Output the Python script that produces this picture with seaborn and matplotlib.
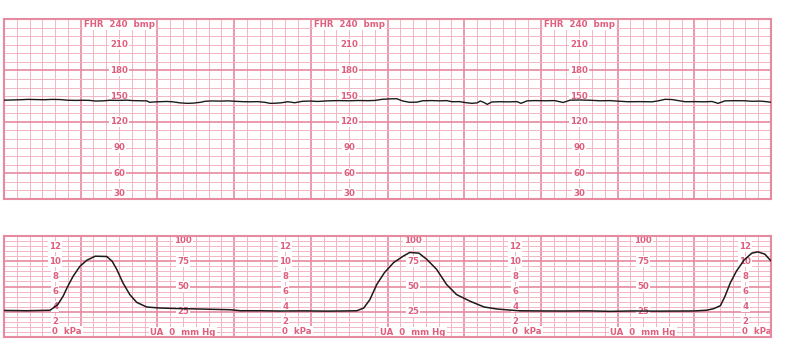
import numpy as np
import pandas as pd
import matplotlib
matplotlib.use("Agg")
import matplotlib.pyplot as plt
import seaborn as sns

# ---------------- data ----------------
fhr_time = [0.00, 0.10, 0.21, 0.31, 0.42, 0.52, 0.63, 0.73, 0.82, 0.93,
            1.03, 1.12, 1.19, 1.29, 1.38, 1.49, 1.60, 1.68, 1.77, 1.86,
            1.90, 1.97, 2.03, 2.12, 2.20, 2.29, 2.39, 2.46, 2.56, 2.62,
            2.71, 2.82, 2.92, 3.01, 3.10, 3.21, 3.31, 3.40, 3.47, 3.55,
            3.62, 3.70, 3.79, 3.89, 3.99, 4.09, 4.22, 4.35, 4.49, 4.62,
            4.75, 4.84, 4.93, 5.03, 5.12, 5.20, 5.29, 5.38, 5.46, 5.58,
            5.68, 5.77, 5.84, 5.94, 6.03, 6.10, 6.17, 6.21, 6.26, 6.30,
            6.36, 6.47, 6.57, 6.69, 6.74, 6.82, 6.92, 7.05, 7.18, 7.29,
            7.38, 7.51, 7.64, 7.77, 7.90, 8.00, 8.13, 8.29, 8.45, 8.53,
            8.62, 8.71, 8.79, 8.88, 9.01, 9.14, 9.23, 9.31, 9.40, 9.53,
            9.66, 9.75, 9.86, 9.95, 10.00]
fhr_bpm = [145.3, 145.5, 145.8, 146.2, 146.0, 145.8, 146.2, 146.0, 145.3, 145.0,
           145.2, 145.0, 144.3, 144.5, 145.2, 145.0, 145.3, 144.8, 144.6, 144.5,
           142.8, 143.3, 143.5, 143.8, 143.4, 142.2, 141.6, 141.8, 142.8, 144.0,
           144.4, 144.2, 144.5, 144.0, 143.6, 143.4, 143.6, 142.8, 141.6, 141.8,
           142.3, 143.5, 142.3, 144.0, 144.3, 143.8, 144.5, 144.8, 144.6, 144.9,
           144.7, 145.0, 146.3, 146.8, 147.0, 144.3, 142.8, 143.0, 144.6, 144.8,
           144.5, 144.8, 143.5, 143.6, 142.3, 141.6, 142.2, 144.3, 142.5, 140.4,
           143.2, 143.5, 143.3, 143.6, 141.6, 144.5, 144.8, 144.6, 144.8, 142.6,
           145.3, 145.5, 145.2, 144.6, 144.8, 144.2, 143.5, 143.6, 143.4, 144.5,
           146.3, 146.0, 144.8, 143.5, 143.6, 143.4, 143.8, 141.6, 144.5, 144.7,
           144.6, 144.0, 144.2, 143.5, 142.8]

ua_time = [0.00, 0.30, 0.60, 0.64, 0.70, 0.77, 0.83, 0.90, 0.99, 1.08,
           1.19, 1.34, 1.41, 1.47, 1.55, 1.64, 1.73, 1.86, 2.03, 2.20,
           2.56, 2.95, 3.08, 3.34, 3.60, 3.90, 4.20, 4.45, 4.60, 4.69,
           4.77, 4.86, 4.96, 5.08, 5.21, 5.29, 5.41, 5.51, 5.64, 5.77,
           5.90, 6.08, 6.26, 6.43, 6.70, 7.00, 7.30, 7.60, 7.90, 8.20,
           8.50, 8.80, 9.00, 9.16, 9.25, 9.34, 9.40, 9.47, 9.55, 9.65,
           9.75, 9.83, 9.92, 10.00]
ua_mmhg = [26.3, 26.0, 26.5, 28.7, 32.0, 40.3, 50.0, 60.0, 70.0, 76.0,
           80.0, 79.7, 75.0, 67.0, 53.7, 42.0, 34.3, 29.7, 28.7, 28.3,
           27.7, 27.0, 26.0, 26.0, 25.7, 25.9, 25.6, 25.8, 26.0, 28.7,
           37.0, 52.0, 63.7, 73.7, 80.3, 83.7, 83.0, 77.0, 67.0, 52.0,
           42.0, 35.3, 29.7, 27.7, 26.0, 25.8, 25.7, 25.9, 25.4, 25.8,
           25.6, 25.7, 25.8, 26.5, 28.0, 31.0, 40.3, 53.7, 65.3, 76.3,
           83.0, 84.3, 82.0, 75.3]

fhr_labels = ["210", "180", "150", "120", "90", "60", "30"]
fhr_label_vals = [210, 180, 150, 120, 90, 60, 36]
fhr_title = "FHR  240  bmp"
fhr_label_cols = [1.5, 4.5, 7.5]

kpa_labels = ["12", "10", "8", "6", "4", "2"]
kpa_vals = [12, 10, 8, 6, 4, 2]
kpa_cols = [0.667, 3.667, 6.667, 9.667]
mmhg_labels = ["100", "75", "50", "25"]
mmhg_vals = [96, 75, 50, 25]
mmhg_cols = [2.333, 5.333, 8.333]

fhr_df = pd.DataFrame({"t": fhr_time, "bpm": fhr_bpm})
ua_df = pd.DataFrame({"t": ua_time, "mmhg": ua_mmhg})

# ---------------- style ----------------
sns.set_style("white")
plt.rcParams["font.family"] = ["DejaVu Sans"]

THIN = "#f3b6c2"
THICK = "#e68a9f"
TXT = "#df5f7d"
TRACE = "#1e1a1a"

W, H = 790, 352
fig = plt.figure(figsize=(W / 100, H / 100), dpi=100)
fig.patch.set_facecolor("white")

ax1 = fig.add_axes([4 / W, 1 - 199 / H, 767 / W, 180 / H])
ax2 = fig.add_axes([4 / W, 1 - 337 / H, 767 / W, 101 / H])


def paper(ax, ymin, ymax, ystep, ythick):
    ax.set_xlim(0, 10)
    ax.set_ylim(ymin, ymax)
    for v in np.arange(0, 10.001, 1 / 6):
        major = abs(v - round(v)) < 1e-6
        ax.axvline(v, color=THICK if major else THIN,
                   lw=1.2 if major else 0.7, zorder=0)
    for v in np.arange(ymin, ymax + 0.001, ystep):
        major = abs(v % ythick) < 1e-6
        ax.axhline(v, color=THICK if major else THIN,
                   lw=1.2 if major else 0.7, zorder=0)
    ax.set_xticks([])
    ax.set_yticks([])
    for s in ax.spines.values():
        s.set_color(THICK)
        s.set_linewidth(1.5)
    ax.set_facecolor("white")


paper(ax1, 30, 240, 10, 60)
paper(ax2, 0, 100, 5, 25)

bb = dict(boxstyle="square,pad=0.12", fc="white", ec="none")
fs = 6.2
fw = "semibold"

for c in fhr_label_cols:
    ax1.text(c, 234, fhr_title, ha="center", va="center", fontsize=fs,
             color=TXT, fontweight=fw, bbox=bb, zorder=2)
    for lab, v in zip(fhr_labels, fhr_label_vals):
        ax1.text(c, v, lab, ha="center", va="center", fontsize=fs,
                 color=TXT, fontweight=fw, bbox=bb, zorder=2)

for c in kpa_cols:
    for lab, v in zip(kpa_labels, kpa_vals):
        ax2.text(c, v * 7.5, lab, ha="center", va="center", fontsize=fs,
                 color=TXT, fontweight=fw, bbox=bb, zorder=2)
    ax2.text(c - 0.04, 5.3, "0  kPa", ha="left", va="center", fontsize=fs,
             color=TXT, fontweight=fw, bbox=bb, zorder=2)

for c in mmhg_cols:
    for lab, v in zip(mmhg_labels, mmhg_vals):
        ax2.text(c, v, lab, ha="center", va="center", fontsize=fs,
                 color=TXT, fontweight=fw, bbox=bb, zorder=2)
    ax2.text(c, 4.7, "UA  0  mm Hg", ha="center", va="center", fontsize=fs,
             color=TXT, fontweight=fw, bbox=bb, zorder=2)

sns.lineplot(data=fhr_df, x="t", y="bpm", ax=ax1, color=TRACE, lw=1.0,
             zorder=3, legend=False)
sns.lineplot(data=ua_df, x="t", y="mmhg", ax=ax2, color=TRACE, lw=1.1,
             zorder=3, legend=False)

for ax in (ax1, ax2):
    ax.set_xlabel("")
    ax.set_ylabel("")
    ax.set_xlim(0, 10)

ax1.set_ylim(30, 240)
ax2.set_ylim(0, 100)

fig.savefig("out.png", dpi=100, facecolor="white")
